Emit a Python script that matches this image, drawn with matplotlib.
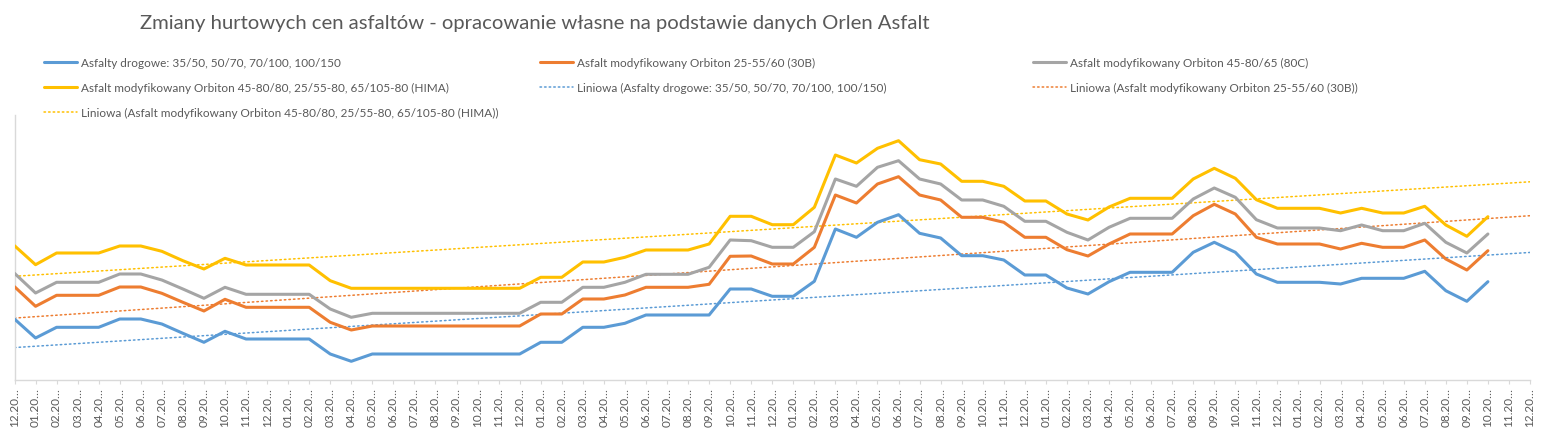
import numpy as np
import matplotlib
matplotlib.use("Agg")
import matplotlib.pyplot as plt

plt.rcParams['font.family'] = ['Lato', 'DejaVu Sans']

# ---------------- data ----------------
TITLE = "Zmiany hurtowych cen asfaltów - opracowanie własne na podstawie danych Orlen Asfalt"

MONTHS = ["01", "02", "03", "04", "05", "06", "07", "08", "09", "10", "11", "12"]
tick_labels = ["12.20…"] + [m + ".20…" for _ in range(6) for m in MONTHS]   # 73 categories

names = [
    "Asfalty drogowe: 35/50, 50/70, 70/100, 100/150",
    "Asfalt modyfikowany Orbiton 25-55/60 (30B)",
    "Asfalt modyfikowany Orbiton 45-80/65 (80C)",
    "Asfalt modyfikowany Orbiton 45-80/80, 25/55-80, 65/105-80 (HIMA)",
]

drogowe = [61, 42, 52.7, 52.7, 52.7, 61, 61, 56, 46.7, 37.7, 48.7, 41, 41, 41, 41, 26, 18.7,
           26, 26, 26, 26, 26, 26, 26, 26,
           37.7, 37.7, 52.7, 52.7, 56.7, 65, 65, 65, 65, 91, 91, 83.7, 83.7, 98.7,
           151, 142.7, 157.7, 165.3, 146.7, 142, 124.3, 124.3, 120, 105, 105, 92, 86,
           98.3, 107.7, 107.7, 107.7, 127.7, 137.7, 127.7, 106, 97.7, 97.7, 97.7, 96,
           101.7, 101.7, 101.7, 108.7, 89.3, 78.7, 98.3]

orbiton_30b = [93.3, 73.7, 84.7, 84.7, 84.7, 93, 93, 86.7, 77.7, 69, 80.7, 72.7, 72.7, 72.7, 72.7, 57.7, 50,
               54, 54, 54, 54, 54, 54, 54, 54,
               66, 66, 81, 81, 85, 92.7, 92.7, 92.7, 95.7, 123.7, 124, 116, 116, 132.7,
               185, 177, 196, 203.3, 185, 180, 162.7, 162.7, 157.7, 142.7, 142.7, 130.3, 124,
               136, 146, 146, 146, 164.3, 175.7, 166, 142.7, 136, 136, 136, 131,
               136.7, 132.7, 132.7, 140, 121, 110, 129.3]

orbiton_80c = [106.7, 87, 97.7, 97.7, 97.7, 106, 106, 100, 91, 81.7, 92.7, 85.7, 85.7, 85.7, 85.7, 71, 62.7,
               66.7, 66.7, 66.7, 66.7, 66.7, 66.7, 66.7, 66.7,
               77.7, 77.7, 92.7, 92.7, 97.7, 105.7, 105.7, 105.7, 112.7, 140, 139.3, 132.7, 132.7, 148.3,
               201, 193.7, 212.7, 219.3, 201, 196, 180, 180, 173.7, 158.7, 158.7, 147.7, 140,
               152.7, 161.7, 161.7, 161.7, 181, 192, 182.7, 160.3, 152, 152, 152, 149.3,
               155, 149.3, 149.3, 156.7, 137.7, 127, 146]

orbiton_hima = [134.3, 115.3, 127, 127, 127, 134, 134, 128.7, 119.3, 111, 121.7, 115, 115, 115, 115, 99.3, 91.7,
                91.7, 91.7, 91.7, 91.7, 91.7, 91.7, 91.7, 91.7,
                102.7, 102.7, 118, 118, 122.7, 130, 130, 130, 136, 163.7, 163.7, 155.3, 155.3, 172.7,
                225, 217, 231.7, 239.3, 220.3, 216, 198.7, 198.7, 193.7, 179, 179, 166, 160,
                173, 181.7, 181.7, 181.7, 201, 211.7, 201.7, 180.3, 171.7, 171.7, 171.7, 167,
                171.7, 167, 167, 173.7, 155, 143.7, 163.3]

series = [drogowe, orbiton_30b, orbiton_80c, orbiton_hima]
colors = ["#5B9BD5", "#ED7D31", "#A5A5A5", "#FFC000"]
trend_of = [0, 1, 3]          # series with linear trendlines
TREND_FORWARD = 2             # periods forecast forward

# ---------------- figure ----------------
W, H = 1550, 439
fig = plt.figure(figsize=(W / 100, H / 100), dpi=100)
ax = fig.add_axes([14.5 / W, 1 - 381 / H, (1530 - 14.5) / W, (381 - 116) / H])

handles = {}
for k, (vals, c) in enumerate(zip(series, colors)):
    x = np.arange(len(vals))
    ln, = ax.plot(x, vals, color=c, lw=2.2, solid_joinstyle='round', solid_capstyle='round', zorder=3)
    handles[k] = ln

trend_handles = {}
for k in trend_of:
    vals = np.asarray(series[k], dtype=float)
    x = np.arange(len(vals))
    a, b = np.polyfit(x, vals, 1)
    xt = np.array([0, len(vals) - 1 + TREND_FORWARD])
    ln, = ax.plot(xt, a * xt + b, color=colors[k], lw=1.1, linestyle=(0, (1, 2)),
                  dash_capstyle='round', zorder=2)
    trend_handles[k] = ln

ax.set_xlim(0, len(tick_labels) - 1)
ax.set_ylim(0, 265)
ax.set_xticks(np.arange(len(tick_labels)))
ax.set_xticklabels(tick_labels, rotation=90, fontsize=8.5, color="#595959")
ax.tick_params(axis='x', length=3, color="#D9D9D9", pad=2)
ax.set_yticks([])
for s in ["top", "right"]:
    ax.spines[s].set_visible(False)
for s in ["left", "bottom"]:
    ax.spines[s].set_color("#D9D9D9")
    ax.spines[s].set_linewidth(1)

fig.text(140 / W, 1 - 23 / H, TITLE, fontsize=14.6, color="#595959", ha='left', va='center')

# legend in three columns
def trend_label(i):
    return "Liniowa (" + names[i] + ")"

cols = [
    (44, [(handles[0], names[0]), (handles[3], names[3]), (trend_handles[3], trend_label(3))]),
    (540, [(handles[1], names[1]), (trend_handles[0], trend_label(0))]),
    (1033, [(handles[2], names[2]), (trend_handles[1], trend_label(1))]),
]
for xpix, entries in cols:
    leg = fig.legend([e[0] for e in entries], [e[1] for e in entries],
                     loc='upper left', bbox_to_anchor=(xpix / W, 1 - 58 / H),
                     frameon=False, fontsize=8.5, labelcolor="#595959",
                     handlelength=2.8, handletextpad=0.35, labelspacing=1.2,
                     borderpad=0, borderaxespad=0)

fig.savefig("out.png", dpi=100)
